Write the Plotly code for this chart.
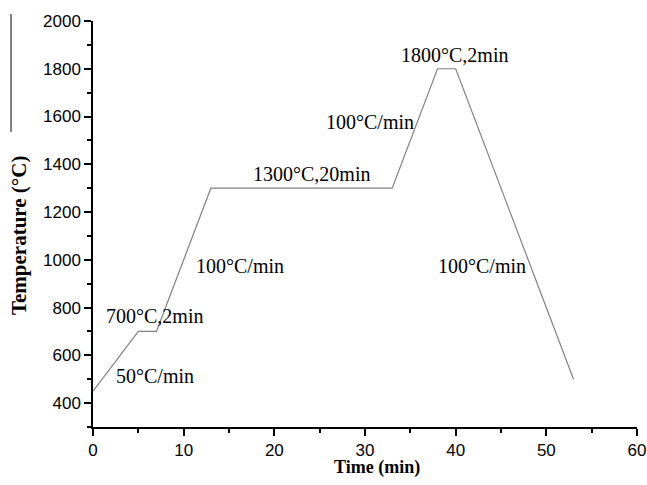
import plotly.graph_objects as go

# Data: heating schedule (time in min, temperature in °C)
time_min = [0, 5, 7, 13, 33, 38, 40, 53]
temp_c = [450, 700, 700, 1300, 1300, 1800, 1800, 500]

# Annotation texts and their data positions
label_texts = ["50°C/min", "700°C,2min", "100°C/min", "1300°C,20min",
               "100°C/min", "1800°C,2min", "100°C/min"]
label_x = [6.8, 6.75, 16.2, 24.05, 30.5, 39.9, 42.9]
label_y = [515, 765, 975, 1358, 1576, 1858, 975]

x_ticks = [0, 10, 20, 30, 40, 50, 60]
y_ticks = [400, 600, 800, 1000, 1200, 1400, 1600, 1800, 2000]

fig = go.Figure()
fig.add_trace(go.Scatter(
    x=time_min, y=temp_c, mode="lines",
    line=dict(color="#808080", width=1.2),
    showlegend=False, hoverinfo="skip"))

for t, x, y in zip(label_texts, label_x, label_y):
    fig.add_annotation(x=x, y=y, text=t, showarrow=False,
                       font=dict(family="Liberation Serif", size=20, color="black"),
                       xanchor="center", yanchor="middle")

# axis titles
fig.add_annotation(xref="paper", yref="paper", x=0.522, y=-0.1,
                   text="<b>Time (min)</b>", showarrow=False,
                   xanchor="center", yanchor="middle",
                   font=dict(family="Liberation Serif", size=18, color="black"))
fig.add_annotation(xref="paper", yref="paper", x=-0.136, y=0.4704,
                   text="<b>Temperature (°C)</b>", showarrow=False, textangle=-90,
                   xanchor="center", yanchor="middle",
                   font=dict(family="Liberation Serif", size=21, color="black"))

tickfont = dict(family="Liberation Sans", size=17, color="black")
fig.update_xaxes(range=[0, 60], tickvals=x_ticks, ticks="outside", ticklen=7,
                 tickwidth=1.5, tickcolor="black", showline=True, linecolor="black",
                 linewidth=1.5, showgrid=False, zeroline=False, tickfont=tickfont,
                 automargin=False, ticklabeloverflow="allow",
                 minor=dict(dtick=5, ticks="outside", ticklen=4, tickwidth=1.5,
                            tickcolor="black", showgrid=False))
fig.update_yaxes(range=[300, 2000], tickvals=y_ticks, ticks="outside", ticklen=7,
                 tickwidth=1.5, tickcolor="black", showline=True, linecolor="black",
                 linewidth=1.5, showgrid=False, zeroline=False, tickfont=tickfont,
                 automargin=False, ticklabeloverflow="allow",
                 minor=dict(tick0=300, dtick=100, ticks="outside", ticklen=4,
                            tickwidth=1.5, tickcolor="black", showgrid=False))

# thin stray overline at the top-left of the original figure
fig.add_shape(type="line", xref="paper", yref="paper",
              x0=-0.1507, x1=-0.1507, y0=1.017, y1=0.727,
              line=dict(color="black", width=1))

fig.update_layout(width=647, height=485, plot_bgcolor="white", paper_bgcolor="white",
                  margin=dict(l=93, r=10, t=21, b=58))

fig.write_html(
    "out.html",
    config={"displayModeBar": False},
    post_script=("document.body.style.margin='0';"
                 "document.documentElement.style.overflow='hidden';"
                 "document.body.style.overflow='hidden';"))
